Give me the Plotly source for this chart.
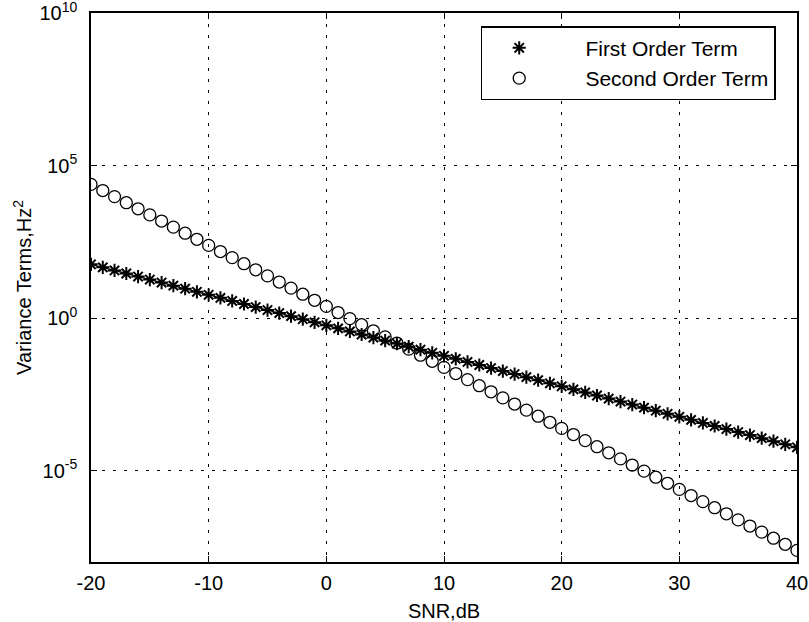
import plotly.graph_objects as go

snr_db = [-20, -19, -18, -17, -16, -15, -14, -13, -12, -11,
          -10, -9, -8, -7, -6, -5, -4, -3, -2, -1,
          0, 1, 2, 3, 4, 5, 6, 7, 8, 9,
          10, 11, 12, 13, 14, 15, 16, 17, 18, 19,
          20, 21, 22, 23, 24, 25, 26, 27, 28, 29,
          30, 31, 32, 33, 34, 35, 36, 37, 38, 39, 40]

first_order = [5.75e1, 4.57e1, 3.63e1, 2.88e1, 2.29e1, 1.82e1, 1.45e1, 1.15e1, 9.12e0, 7.24e0,
               5.75e0, 4.57e0, 3.63e0, 2.88e0, 2.29e0, 1.82e0, 1.45e0, 1.15e0, 9.12e-1, 7.24e-1,
               5.75e-1, 4.57e-1, 3.63e-1, 2.88e-1, 2.29e-1, 1.82e-1, 1.45e-1, 1.15e-1, 9.12e-2, 7.24e-2,
               5.75e-2, 4.57e-2, 3.63e-2, 2.88e-2, 2.29e-2, 1.82e-2, 1.45e-2, 1.15e-2, 9.12e-3, 7.24e-3,
               5.75e-3, 4.57e-3, 3.63e-3, 2.88e-3, 2.29e-3, 1.82e-3, 1.45e-3, 1.15e-3, 9.12e-4, 7.24e-4,
               5.75e-4, 4.57e-4, 3.63e-4, 2.88e-4, 2.29e-4, 1.82e-4, 1.45e-4, 1.15e-4, 9.12e-5, 7.24e-5,
               5.75e-5]

second_order = [2.40e4, 1.51e4, 9.55e3, 6.03e3, 3.80e3, 2.40e3, 1.51e3, 9.55e2, 6.03e2, 3.80e2,
                2.40e2, 1.51e2, 9.55e1, 6.03e1, 3.80e1, 2.40e1, 1.51e1, 9.55e0, 6.03e0, 3.80e0,
                2.40e0, 1.51e0, 9.55e-1, 6.03e-1, 3.80e-1, 2.40e-1, 1.51e-1, 9.55e-2, 6.03e-2, 3.80e-2,
                2.40e-2, 1.51e-2, 9.55e-3, 6.03e-3, 3.80e-3, 2.40e-3, 1.51e-3, 9.55e-4, 6.03e-4, 3.80e-4,
                2.40e-4, 1.51e-4, 9.55e-5, 6.03e-5, 3.80e-5, 2.40e-5, 1.51e-5, 9.55e-6, 6.03e-6, 3.80e-6,
                2.40e-6, 1.51e-6, 9.55e-7, 6.03e-7, 3.80e-7, 2.40e-7, 1.51e-7, 9.55e-8, 6.03e-8, 3.80e-8,
                2.40e-8]

x_ticks = [-20, -10, 0, 10, 20, 30, 40]
x_tick_text = ["-20", "-10", "0", "10", "20", "30", "40"]
y_tick_vals = [1e-5, 1e0, 1e5, 1e10]
y_tick_text = ["10<sup>-5</sup>", "10<sup>0</sup>", "10<sup>5</sup>", "10<sup>10</sup>"]
series_names = ["First Order Term", "Second Order Term"]

FONT = "Liberation Sans"
FS = 20
PAD = "\u00a0" * 5

fig = go.Figure()
fig.add_trace(go.Scatter(x=snr_db, y=first_order, mode="lines",
                         line=dict(color="black", width=1.2), showlegend=False,
                         hoverinfo="skip"))
fig.add_trace(go.Scatter(x=snr_db, y=first_order, mode="markers", name=PAD + series_names[0],
                         marker=dict(symbol="asterisk-open", size=11, color="black",
                                     line=dict(color="black", width=2))))
fig.add_trace(go.Scatter(x=snr_db, y=second_order, mode="markers", name=PAD + series_names[1],
                         marker=dict(symbol="circle-open", size=12, color="black",
                                     line=dict(color="black", width=1.3))))

axis_common = dict(showline=True, linecolor="black", linewidth=1.5, mirror="ticks",
                   ticks="inside", ticklen=6, tickcolor="black", tickwidth=1,
                   showgrid=True, gridcolor="black", gridwidth=1, griddash="3px,8px",
                   zeroline=False, ticklabeloverflow="allow",
                   tickfont=dict(family=FONT, size=FS, color="black"))

fig.update_xaxes(range=[-20, 40], tickvals=x_ticks, ticktext=x_tick_text, ticklabelstandoff=2,
                 automargin=False,
                 title=dict(text="SNR,dB", font=dict(family=FONT, size=FS, color="black")),
                 **axis_common)
fig.update_yaxes(type="log", range=[-8, 10], tickvals=y_tick_vals, ticktext=y_tick_text,
                 ticklabelstandoff=8, automargin="left",
                 title=dict(text="Variance Terms,Hz<sup>2</sup>", standoff=2,
                            font=dict(family=FONT, size=FS, color="black")),
                 **axis_common)

fig.update_layout(width=809, height=622, margin=dict(l=91, r=12, t=13, b=60),
                  paper_bgcolor="white", plot_bgcolor="white",
                  font=dict(family=FONT, size=FS, color="black"),
                  legend=dict(x=0.552, y=0.976, xanchor="left", yanchor="top",
                              bgcolor="white", bordercolor="black", borderwidth=1.5,
                              font=dict(family=FONT, size=21, color="black"),
                              itemwidth=64, tracegroupgap=0))

fig.write_html("out.html", config={"displayModeBar": False},
               post_script="document.body.style.margin='0';")
